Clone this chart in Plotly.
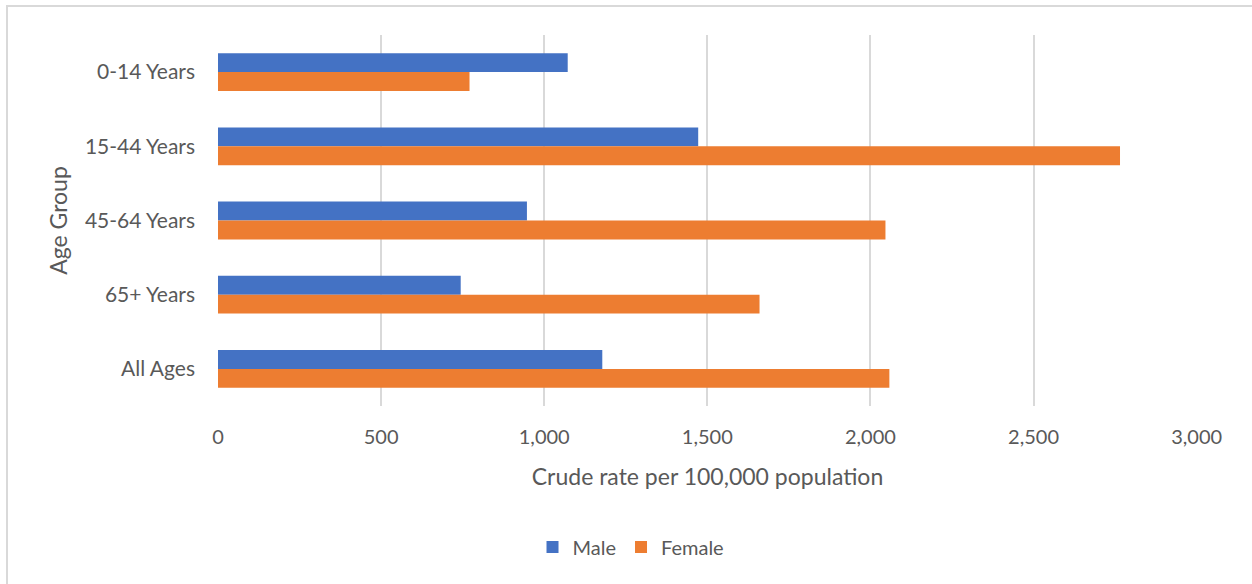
import plotly.graph_objects as go

categories = ["0-14 Years", "15-44 Years", "45-64 Years", "65+ Years", "All Ages"]
male = [1072, 1472, 947, 744, 1178]
female = [771, 2765, 2046, 1660, 2058]
x_ticks = [0, 500, 1000, 1500, 2000, 2500, 3000]

FONT = "Lato, 'Open Sans', sans-serif"
TXT = "#595959"
BORDER = "#D9D9D9"

fig = go.Figure()
fig.add_trace(go.Bar(y=categories, x=male, name="Male", orientation="h",
                     marker=dict(color="#4472C4", line=dict(width=0))))
fig.add_trace(go.Bar(y=categories, x=female, name="Female", orientation="h",
                     marker=dict(color="#ED7D31", line=dict(width=0))))

W, H = 1252, 584
ml, mr, mt, mb = 218, 55, 35, 178
pw, ph = W - ml - mr, H - mt - mb


def px_x(p):
    return (p - ml) / pw


def px_y(p):
    return 1 - (p - mt) / ph


fig.update_layout(
    width=W, height=H,
    margin=dict(l=ml, r=mr, t=mt, b=mb),
    barmode="group", bargap=0.49, bargroupgap=0,
    plot_bgcolor="white", paper_bgcolor="white",
    font=dict(family=FONT, color=TXT, size=21),
    xaxis=dict(range=[0, 3001], tickvals=x_ticks, tickformat=",d",
               showgrid=True, gridcolor="#D9D9D9", gridwidth=1.5,
               zeroline=False, showline=False, ticks="",
               ticklabelstandoff=17, tickfont=dict(size=20),
               title=dict(text="Crude rate per 100,000 population",
                          font=dict(size=23, color=TXT), standoff=21)),
    yaxis=dict(autorange="reversed", showgrid=False, zeroline=False,
               showline=False, ticks="", ticklabelstandoff=22,
               tickfont=dict(size=21),
               title=dict(text="Age Group", font=dict(size=23, color=TXT),
                          standoff=10)),
    legend=dict(orientation="h", xref="container", x=0.504, xanchor="center",
                yref="container", y=(H - 547) / H, yanchor="middle",
                font=dict(size=20, color=TXT),
                itemwidth=30, traceorder="normal"),
    shapes=[
        dict(type="line", xref="paper", yref="paper",
             x0=px_x(6), x1=px_x(W + 5), y0=px_y(6), y1=px_y(6),
             line=dict(color=BORDER, width=2), layer="below"),
        dict(type="line", xref="paper", yref="paper",
             x0=px_x(7), x1=px_x(7), y0=px_y(6), y1=px_y(H + 5),
             line=dict(color=BORDER, width=2), layer="below"),
    ],
)

fig.write_html("out.html", config={"displayModeBar": False},
               post_script="document.body.style.margin='0';")
